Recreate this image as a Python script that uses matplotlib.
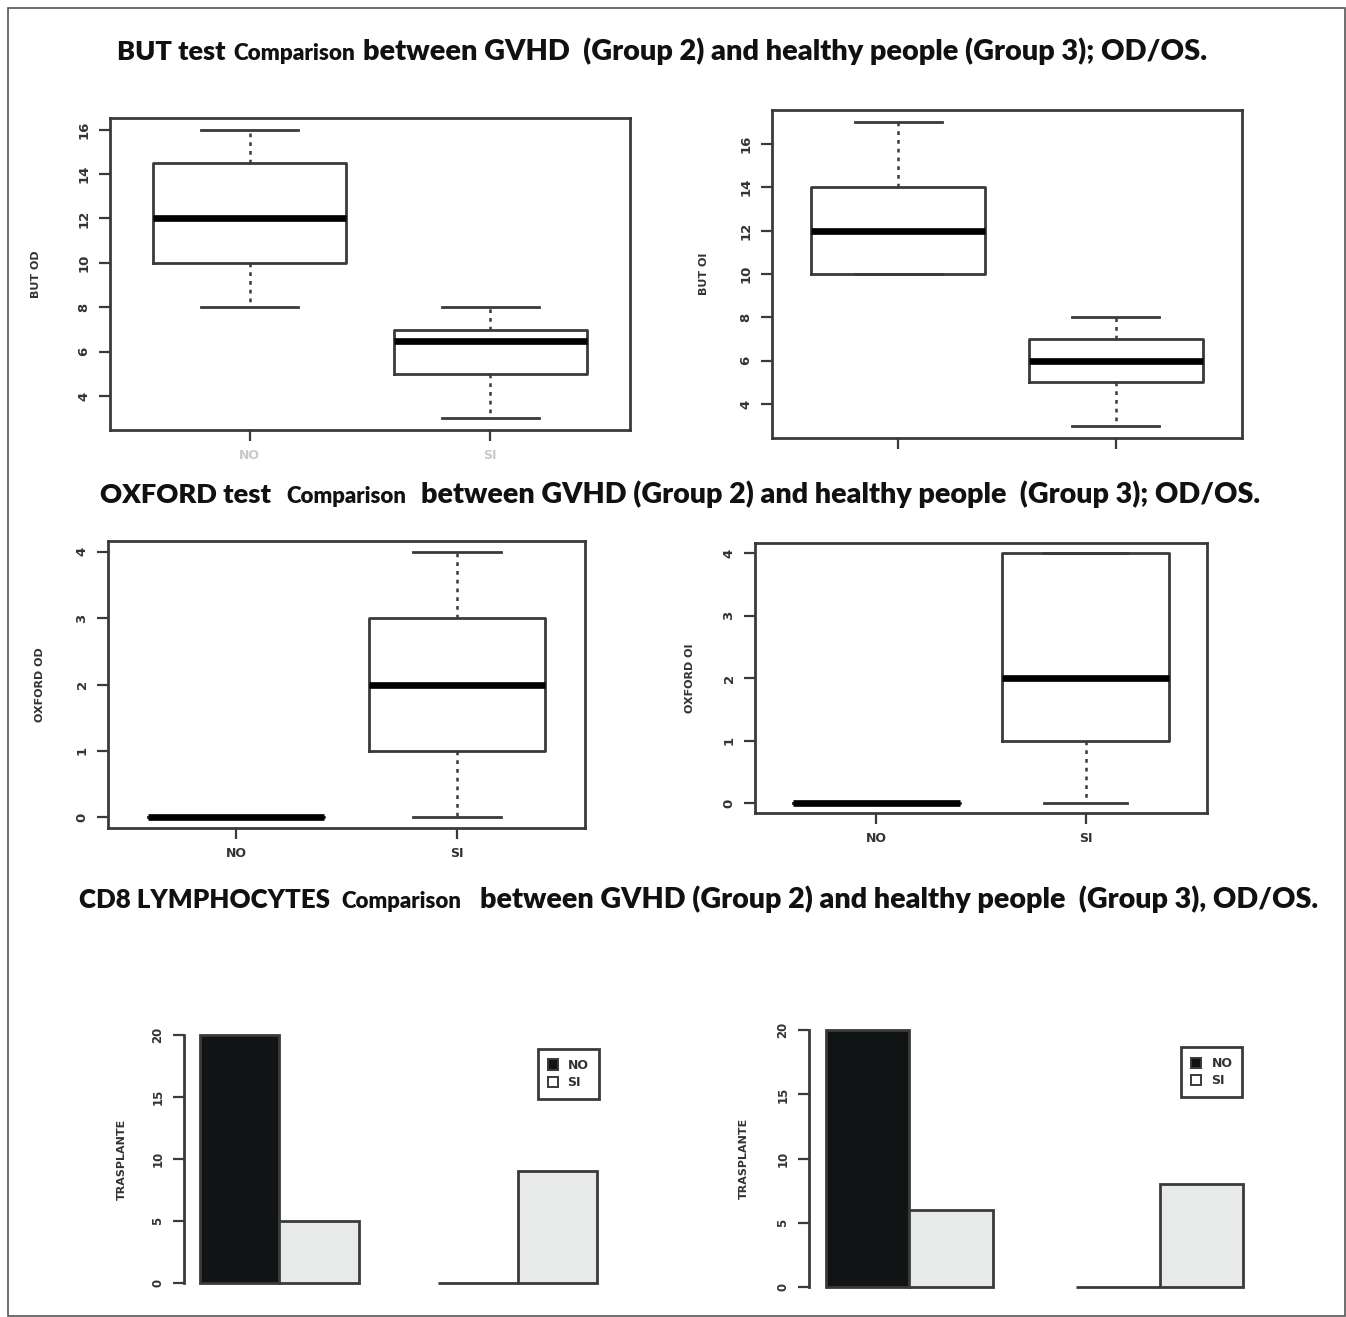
import matplotlib
matplotlib.use("Agg")
import matplotlib.pyplot as plt
from matplotlib.patches import Rectangle, Patch
from matplotlib import font_manager

# ---------------- data ----------------
groups = ["NO", "SI"]

# BUT OD boxplot stats (whislo, q1, med, q3, whishi)
but_od_no = [8, 10, 12, 14.5, 16]
but_od_si = [3, 5, 6.5, 7, 8]
# BUT OI
but_oi_no = [10, 10, 12, 14, 17]
but_oi_si = [3, 5, 6, 7, 8]
# OXFORD OD
ox_od_no = [0, 0, 0, 0, 0]
ox_od_si = [0, 1, 2, 3, 4]
# OXFORD OI
ox_oi_no = [0, 0, 0, 0, 0]
ox_oi_si = [0, 1, 2, 4, 4]

# CD8 lymphocytes barplots (TRASPLANTE counts)
cd8_od_no = [20, 0]
cd8_od_si = [5, 9]
cd8_oi_no = [20, 0]
cd8_oi_si = [6, 8]

but_ticks = [4, 6, 8, 10, 12, 14, 16]
ox_ticks = [0, 1, 2, 3, 4]
bar_ticks = [0, 5, 10, 15, 20]

# ---------------- figure ----------------
W, H = 1346, 1317
fig = plt.figure(figsize=(W / 100, H / 100), dpi=100)
fig.patch.set_facecolor("white")

EDGE = "#3a3a3a"
TXT = "#333333"

installed = {f.name for f in font_manager.fontManager.ttflist}
if "Liberation Sans Narrow" in installed:
    TFONT = ["Liberation Sans Narrow", "DejaVu Sans"]
    TWEIGHT = "bold"
else:
    TFONT = ["Lato", "DejaVu Sans"]
    TWEIGHT = "heavy"


def px_axes(x0, y0, x1, y1):
    return fig.add_axes([x0 / W, 1 - y1 / H, (x1 - x0) / W, (y1 - y0) / H])


# outer frame
fig.add_artist(Rectangle((8 / W, 1 - 1316 / H), (1345 - 8) / W, (1316 - 8) / H,
                         transform=fig.transFigure, fill=False,
                         edgecolor="#555555", linewidth=1.2))


def stats(v, label):
    return dict(whislo=v[0], q1=v[1], med=v[2], q3=v[3], whishi=v[4],
                fliers=[], label=label)


def boxpanel(rect, s_no, s_si, ylabel, ticks, xlabels=True, xlabel_color=TXT):
    ax = px_axes(*rect)
    ax.bxp([stats(s_no, "NO"), stats(s_si, "SI")], positions=[1, 2],
           widths=0.8, capwidths=0.4, showfliers=False, patch_artist=False,
           boxprops=dict(color=EDGE, linewidth=2.0),
           whiskerprops=dict(color=EDGE, linewidth=1.8, linestyle=(0, (1.5, 2))),
           capprops=dict(color=EDGE, linewidth=2.0),
           medianprops=dict(color="black", linewidth=4.8, solid_capstyle="butt"))
    lo = min(s_no[0], s_si[0])
    hi = max(s_no[4], s_si[4])
    ext = 0.04 * (hi - lo)
    ax.set_ylim(lo - ext, hi + ext)
    ax.set_xlim(0.42, 2.58)
    ax.set_yticks(ticks)
    ax.set_yticklabels([str(t) for t in ticks], rotation=90, va="center",
                       fontsize=9.5, color=TXT, fontweight="bold")
    ax.set_xticks([1, 2])
    if xlabels:
        ax.set_xticklabels(groups, fontsize=9, color=xlabel_color,
                           fontweight="bold")
    else:
        ax.set_xticklabels(["", ""])
    ax.tick_params(axis="both", length=8, width=1.6, color=EDGE, pad=6)
    for sp in ax.spines.values():
        sp.set_color(EDGE)
        sp.set_linewidth(2.0)
    ax.set_ylabel(ylabel, fontsize=8, color=TXT, fontweight="bold")
    ax.yaxis.set_label_coords(-0.133, 0.5)
    return ax


boxpanel((110, 118, 630, 430), but_od_no, but_od_si, "BUT OD", but_ticks,
         xlabels=True, xlabel_color="#c8c8c8")
boxpanel((772, 110, 1242, 438), but_oi_no, but_oi_si, "BUT OI", but_ticks,
         xlabels=False)
boxpanel((108, 541, 585, 828), ox_od_no, ox_od_si, "OXFORD OD", ox_ticks)
boxpanel((755, 543, 1207, 813), ox_oi_no, ox_oi_si, "OXFORD OI", ox_ticks)


def barpanel(rect, no_vals, si_vals, legend_anchor):
    ax = px_axes(*rect)
    lefts_no = [1, 4]
    lefts_si = [2, 5]
    ax.bar(lefts_no, no_vals, width=1, align="edge", color="#101414",
           edgecolor=EDGE, linewidth=2.0)
    ax.bar(lefts_si, si_vals, width=1, align="edge", color="#e8e9e9",
           edgecolor=EDGE, linewidth=2.0)
    ax.set_xlim(0.8, 6.2)
    ax.set_ylim(-0.8, 20.8)
    for k in ["top", "right", "bottom"]:
        ax.spines[k].set_visible(False)
    ax.spines["left"].set_bounds(0, 20)
    ax.spines["left"].set_color(EDGE)
    ax.spines["left"].set_linewidth(2.0)
    ax.set_xticks([])
    ax.set_yticks(bar_ticks)
    ax.set_yticklabels([str(t) for t in bar_ticks], rotation=90, va="center",
                       fontsize=8.5, color=TXT, fontweight="bold")
    ax.tick_params(axis="y", length=8, width=1.6, color=EDGE, pad=6)
    ax.set_ylabel("TRASPLANTE", fontsize=8, color=TXT, fontweight="bold")
    ax.yaxis.set_label_coords(-0.133, 0.5)
    handles = [Patch(facecolor="#101414", edgecolor=EDGE, linewidth=1.4),
               Patch(facecolor="white", edgecolor=EDGE, linewidth=1.4)]
    leg = ax.legend(handles, groups, loc="upper right",
                    bbox_to_anchor=legend_anchor, fontsize=9,
                    handlelength=0.8, handleheight=0.9, handletextpad=0.8,
                    borderpad=0.8, labelspacing=0.35, fancybox=False,
                    framealpha=1, edgecolor=EDGE)
    leg.get_frame().set_linewidth(2.0)
    for t in leg.get_texts():
        t.set_color(TXT)
        t.set_fontweight("bold")
    return ax


barpanel((184, 1025, 613, 1293), cd8_od_no, cd8_od_si, (0.981, 0.935))
barpanel((809, 1020, 1260, 1297), cd8_oi_no, cd8_oi_si, (0.975, 0.925))

# ---------------- titles ----------------
renderer = fig.canvas.get_renderer()


def fit_text(x0, x1, y_base, s, size):
    t = fig.text(x0 / W, 1 - y_base / H, s, fontsize=size, fontweight=TWEIGHT,
                 family=TFONT, ha="left", va="baseline", color="#111111")
    bb = t.get_window_extent(renderer=renderer)
    target = x1 - x0
    t.set_fontsize(size * target / bb.width)
    return t


titles = [
    (60, [(117, 226, "BUT test", 20), (233, 355, "Comparison", 14),
          (363, 1208, "between GVHD  (Group 2) and healthy people (Group 3); OD/OS.", 20)]),
    (503, [(100, 271, "OXFORD test", 20), (286, 406, "Comparison", 14),
           (421, 1257, "between GVHD (Group 2) and healthy people  (Group 3); OD/OS.", 20)]),
    (908, [(79, 330, "CD8 LYMPHOCYTES", 20), (341, 461, "Comparison", 14),
           (480, 1316, "between GVHD (Group 2) and healthy people  (Group 3), OD/OS.", 20)]),
]
for yb, segs in titles:
    for x0, x1, s, sz in segs:
        fit_text(x0, x1, yb, s, sz)

fig.savefig("out.png", dpi=100, facecolor="white")
